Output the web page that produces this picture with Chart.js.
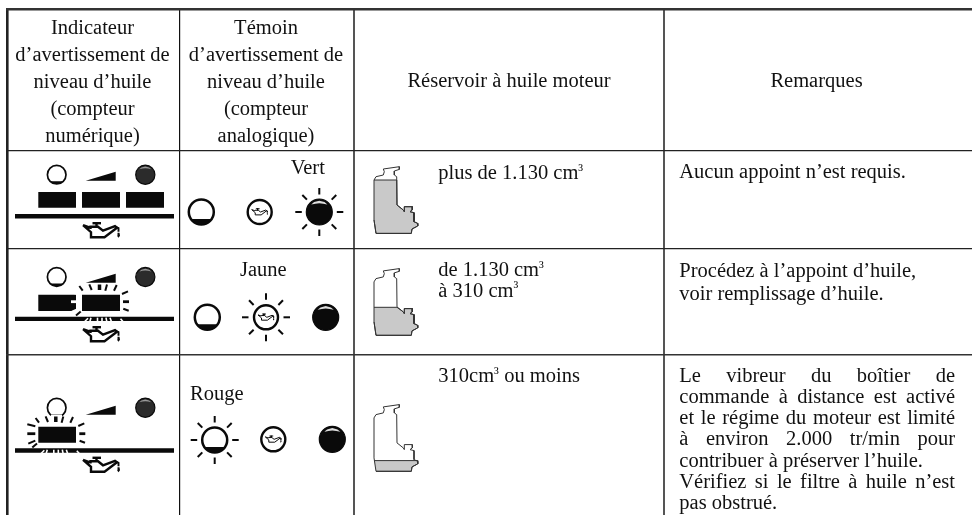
<!DOCTYPE html>
<html>
<head>
<meta charset="utf-8">
<style>
  html, body { margin: 0; padding: 0; background: #fff; }
  canvas { display: block; filter: blur(0.3px); }
</style>
<script src="https://cdn.jsdelivr.net/npm/chart.js@4"></script>
</head>
<body>
<canvas id="myChart" width="972" height="515"></canvas>
<script>
// Table content
const headerIndicateur = ['Indicateur', 'd’avertissement de', 'niveau d’huile', '(compteur', 'numérique)'];
const headerTemoin = ['Témoin', 'd’avertissement de', 'niveau d’huile', '(compteur', 'analogique)'];
const headerReservoir = 'Réservoir à huile moteur';
const headerRemarques = 'Remarques';
const lampColours = ['Vert', 'Jaune', 'Rouge'];
const tankLabels = [['plus de 1.130 cm³'], ['de 1.130 cm³', 'à 310 cm³'], ['310cm³ ou moins']];
const remarks = [
  ['Aucun appoint n’est requis.'],
  ['Procédez à l’appoint d’huile,', 'voir remplissage d’huile.'],
  ['Le vibreur du boîtier de', 'commande à distance est activé', 'et le régime du moteur est limité',
   'à environ 2.000 tr/min pour', 'contribuer à préserver l’huile.', 'Vérifiez si le filtre à huile n’est', 'pas obstrué.']
];
const justifiedLines = [true, true, true, true, false, true, false];

// Table rules (axis units are page pixels)
const columnTicks = [7, 180, 354, 664];
const rowTicks = [9, 150.5, 249, 355];

// Icon outlines, offsets from the icon's own origin
const tankOutline = [[0,13.3],[2,10],[9.3,8.3],[10.3,5],[9.3,2.3],[25.3,0],[25.3,2.7],[20.3,4.3],[20.3,8.3],[22.7,10],[23,38.3],[29.3,43.3],[30.3,45],[30.3,40],[38.3,40],[38.3,43.3],[36,45],[40,46],[40,55],[43.7,56.7],[43.7,59.3],[38,62.3],[37.3,66.7],[2,66.7],[0,53.3],[0,13.3]];
const tankFullFill = [[0,13.3],[22.8,13.3],[23,38.3],[29.3,43.3],[30.3,45],[30.3,40],[38.3,40],[38.3,43.3],[36,45],[40,46],[40,55],[43.7,56.7],[43.7,59.3],[38,62.3],[37.3,66.7],[2,66.7],[0,53.3]];
const tankMidFill = [[0,38.7],[23,38.7],[29.3,43.3],[30.3,45],[30.3,40],[38.3,40],[38.3,43.3],[36,45],[40,46],[40,55],[43.7,56.7],[43.7,59.3],[38,62.3],[37.3,66.7],[2,66.7],[0,53.3]];
const tankLowFill = [[0.3,56],[43.7,56],[43.7,59.3],[38,62.3],[37.3,66.7],[2,66.7]];
const canBody = [[0,2.5],[7,5],[7.5,4],[15,4],[20,8],[32,3.5],[34,5],[21.5,14.5],[8,14.5],[8,9.5],[0,2.5]];
const canCap = [[[9.5,0.5],[18,0.5]], [[13.5,0],[13.5,4]]];
const canSpout = [[33,4.5],[35.5,5.5],[35.5,9]];
const canDrop = [[34.5,10],[36.5,10],[37,13],[35.5,15],[34,13],[34.5,10]];
const bowlShape = [[-.83,.55],[-.7,.71],[-.5,.87],[-.25,.97],[0,1],[.25,.97],[.5,.87],[.7,.71],[.83,.55],[-.83,.55]];
const thinBowlShape = [[-.7,.71],[-.5,.87],[-.25,.97],[0,1],[.25,.97],[.5,.87],[.7,.71],[-.7,.71]];
const shineShape = [[-.62,-.58],[-.4,-.76],[0,-.86],[.4,-.76],[.62,-.58],[.3,-.64],[0,-.67],[-.3,-.64],[-.62,-.58]];
const rayDirections = [[0,-1],[.707,-.707],[1,0],[.707,.707],[0,1],[-.707,.707],[-1,0],[-.707,-.707]];
const flashRays = [
  [[-2.7,-8.7],[.7,-4],2], [[7.3,-10.3],[9.7,-4.7],2], [[17.5,-10.3],[17.5,-4.7],3.5], [[25,-10.3],[23.3,-4],2], [[34.7,-9.7],[32,-4],2],
  [[40,-.7],[46,-3.3],2], [[41,7],[47,7],2.8], [[41.3,14],[46.7,16],2], [[-1.3,16.7],[-6,20.7],2]
];
const flashLeftRays = [[[-3,-.5],[-11,-2.5],2], [[-3,7],[-11,7],2.8], [[-3,14],[-10,17],2]];
const flashBarCuts = [[1,28.5,6,23.5],[7.5,28,9,23],[15.5,28.5,15.5,23],[20,28.5,20,23],[25,28,24,23],[30,28.5,28,23],[38.5,24,42,28]];

const datasets = [];
const black = '#0a0a0a';

function lineSet(points, ox, oy, width, colour, scale) {
  const s = scale || 1;
  datasets.push({
    data: points.map(p => ({ x: ox + p[0] * s, y: oy + p[1] * s })),
    showLine: true, tension: 0, pointRadius: 0, borderWidth: width,
    borderColor: colour, borderJoinStyle: 'miter', fill: false
  });
}

function fillSet(points, ox, oy, colour, scale, edge, edgeWidth) {
  const s = scale || 1;
  datasets.push({
    data: points.map(p => ({ x: ox + p[0] * s, y: oy + p[1] * s })),
    showLine: true, tension: 0, pointRadius: 0, borderWidth: edgeWidth || 0,
    borderColor: edge || colour, backgroundColor: colour, fill: 'shape'
  });
}

function box(x0, x1, y0, y1, colour) {
  fillSet([[x0,y0],[x1,y0],[x1,y1],[x0,y1],[x0,y0]], 0, 0, colour);
}

function disc(cx, cy, r, fillColour, borderWidth) {
  datasets.push({
    data: [{ x: cx, y: cy }], showLine: false, pointStyle: 'circle', pointRadius: r,
    pointBackgroundColor: fillColour, pointBorderColor: black, pointBorderWidth: borderWidth
  });
}

function oilCan(ox, oy, s, width) {
  lineSet(canBody, ox, oy, width, black, s);
  canCap.forEach(seg => lineSet(seg, ox, oy, width, black, s));
  lineSet(canSpout, ox, oy, width * .8, black, s);
  fillSet(canDrop, ox, oy, black, s);
}

function rays(cx, cy, inner, outer, width) {
  rayDirections.forEach(d => lineSet([[d[0] * inner, d[1] * inner], [d[0] * outer, d[1] * outer]], cx, cy, width, black));
}

function emptyLamp(cx, cy, r, width, shape) {
  disc(cx, cy, r, '#fff', width);
  fillSet(shape, cx, cy, black, r);
}

function darkLamp(cx, cy, r, colour, shine) {
  disc(cx, cy, r, colour, 1.2);
  fillSet(shineShape, cx, cy, shine, r);
}

function oilLamp(cx, cy, r) {
  disc(cx, cy, r, '#fff', 2.4);
  oilCan(cx - 8, cy - 3.5, .44, 1);
}

function digitalPanel(top, wedgeTop, blockTop, barTop, canTop) {
  emptyLamp(56.7, top, 9.3, 1.7, thinBowlShape);
  fillSet([[85.7,wedgeTop + 9],[115.7,wedgeTop],[115.7,wedgeTop + 9],[85.7,wedgeTop + 9]], 0, 0, black);
  darkLamp(145.3, top, 9.6, '#2b2b2b', '#999');
  box(15, 174, barTop, barTop + 4.4, black);
  oilCan(83, canTop, 1, 2.4);
}

function flash(x0, y0, leftColour) {
  flashBarCuts.forEach(c => lineSet([[c[0],c[1]],[c[2],c[3]]], x0, y0, 1.6, '#fff'));
  flashRays.forEach(r => lineSet([r[0], r[1]], x0, y0, r[2], black));
  flashLeftRays.forEach(r => lineSet([r[0], r[1]], x0, y0, r[2], leftColour));
}

// First row: everything steady
digitalPanel(174.7, 171.7, 192, 214, 222.7);
box(38.3, 76, 192, 207.7, black);
box(82, 120, 192, 207.7, black);
box(126, 164, 192, 207.7, black);
emptyLamp(201.3, 212, 12.5, 2.5, bowlShape);
oilLamp(259.7, 212, 12);
darkLamp(319.3, 212, 13, black, '#ddd');
rays(319.3, 212, 17.5, 24, 2);

// Second row: second block flashing
digitalPanel(277, 273.7, 294.7, 316.7, 326.7);
box(38.3, 76, 294.7, 311, black);
box(82, 120, 294.7, 311, black);
flash(82, 294.7, '#fff');
emptyLamp(207.3, 317.3, 12.5, 2.5, bowlShape);
oilLamp(266, 317.3, 12);
rays(266, 317.3, 17.5, 24, 2);
darkLamp(325.7, 317.3, 13, black, '#ddd');

// Third row: first block flashing
digitalPanel(407.7, 405.7, 426.7, 448.3, 457.3);
box(51, 62, 414.5, 420, '#fff');
box(38.3, 76, 426.7, 442.7, black);
flash(38.3, 426.7, black);
emptyLamp(214.7, 440, 12.5, 2.5, bowlShape);
rays(214.7, 440, 17.5, 24, 2);
oilLamp(273.3, 439.3, 12);
darkLamp(332.3, 439.3, 13, black, '#ddd');

// Tanks
[tankFullFill, tankMidFill, tankLowFill].forEach((shape, i) => {
  const top = [166.7, 268.6, 404.6][i];
  fillSet(shape, 374, top, '#c9c9c9', 1, '#333', 1);
  lineSet(tankOutline, 374, top, 1, '#333');
});

// Cell text, placed in axis units
const textPlacements = [];
function place(lines, x, baselines, align, justify) {
  lines.forEach((text, i) => textPlacements.push({ text, x, y: baselines[i], align, justify: justify && justify[i] }));
}
const headerBaselines = [34, 61, 88, 115, 142];
place(headerIndicateur, 92.5, headerBaselines, 'center');
place(headerTemoin, 266, headerBaselines, 'center');
place([headerReservoir], 509, [87], 'center');
place([headerRemarques], 816.5, [87], 'center');
place([lampColours[0]], 290.7, [174], 'left');
place([lampColours[1]], 240, [276], 'left');
place([lampColours[2]], 190, [400], 'left');
place(tankLabels[0], 438.3, [179], 'left');
place(tankLabels[1], 438.3, [276, 296.7], 'left');
place(tankLabels[2], 438.3, [382.3], 'left');
place(remarks[0], 679.3, [178], 'left');
place(remarks[1], 679.3, [277, 300], 'left');
place(remarks[2], 679.3, [381.7, 402.7, 424, 445, 466.7, 488, 509], 'left', justifiedLines);

const bodyFont = '20.5px "Liberation Serif"';
const smallFont = '16px "Liberation Serif"';
const justifyRight = 955;

const tableText = {
  id: 'tableText',
  afterDatasetsDraw(chart) {
    const { ctx, scales } = chart;
    ctx.save();
    ctx.fillStyle = '#111';
    ctx.textBaseline = 'alphabetic';
    textPlacements.forEach(t => {
      const px = scales.x.getPixelForValue(t.x);
      const py = scales.y.getPixelForValue(t.y);
      ctx.font = bodyFont;
      ctx.wordSpacing = '0px';
      if (t.justify) {
        const gaps = t.text.split(' ').length - 1;
        const spare = (justifyRight - t.x - ctx.measureText(t.text).width) / gaps;
        ctx.wordSpacing = spare + 'px';
      }
      const parts = t.text.split('³');
      let width = ctx.measureText(parts.join('')).width;
      if (parts.length > 1) width += 5;
      let cursor = t.align === 'center' ? px - width / 2 : px;
      ctx.textAlign = 'left';
      parts.forEach((part, i) => {
        ctx.font = bodyFont;
        ctx.fillText(part, cursor, py);
        cursor += ctx.measureText(part).width;
        if (i < parts.length - 1) {
          ctx.font = smallFont;
          ctx.fillText('³', cursor, py - 4.5);
          cursor += 5;
        }
      });
    });
    ctx.restore();
  }
};

// Painter's order: first pushed ends up underneath
datasets.reverse();

new Chart(document.getElementById('myChart'), {
  type: 'scatter',
  data: { datasets },
  options: {
    responsive: false,
    animation: false,
    layout: { autoPadding: false, padding: { left: 6, top: 8 } },
    plugins: { legend: { display: false }, tooltip: { enabled: false } },
    scales: {
      x: {
        type: 'linear', min: 6, max: 972,
        border: { display: false },
        ticks: { display: false },
        afterBuildTicks(scale) { scale.ticks = columnTicks.map(value => ({ value })); },
        grid: {
          drawTicks: false,
          color: ctx => ['#222', '#111', '#555', '#555'][ctx.index],
          lineWidth: ctx => [2.6, 1.2, 2, 2][ctx.index]
        }
      },
      y: {
        type: 'linear', min: 8, max: 515, reverse: true,
        border: { display: false },
        ticks: { display: false },
        afterBuildTicks(scale) { scale.ticks = rowTicks.map(value => ({ value })); },
        grid: {
          drawTicks: false,
          color: ctx => ['#333', '#222', '#222', '#333'][ctx.index],
          lineWidth: ctx => [2.4, 1.2, 1.2, 1.4][ctx.index]
        }
      }
    }
  },
  plugins: [tableText]
});
</script>
</body>
</html>
